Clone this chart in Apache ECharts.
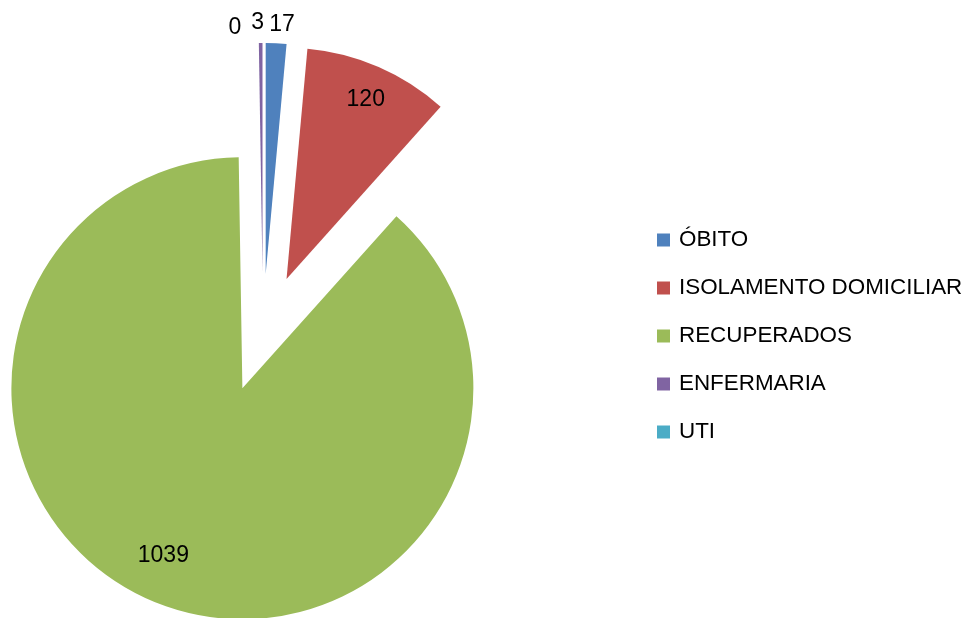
<!DOCTYPE html>
<html>
<head>
<meta charset="utf-8">
<script src="https://cdn.jsdelivr.net/npm/echarts@6/dist/echarts.min.js"></script>
<style>
html,body{margin:0;padding:0;background:#fff;}
#chart{width:965px;height:618px;}
</style>
</head>
<body>
<div id="chart"></div>
<script>
// ---- data ----
const categories = ['ÓBITO', 'ISOLAMENTO DOMICILIAR', 'RECUPERADOS', 'ENFERMARIA', 'UTI'];
const values = [17, 120, 1039, 3, 0];
const colors = ['#4F81BD', '#C0504D', '#9BBB59', '#8064A2', '#4BACC6'];

// which labels sit near the big slices vs. above the small ones
const bigLabel = [false, true, true, false, false];
// small label nudges (style), per category index
const labelNudge = [[5, -1], [5, -9], [-14, -7], [-3, -2], [-28, 3]];

const CENTER = [263, 333];
const R = 231;
const OFFSET = 59;
const FONT = 'Liberation Sans, Arial, sans-serif';

const chart = echarts.init(document.getElementById('chart'), null, {renderer: 'canvas'});

function mainData() {
  return categories.map((c, i) => ({
    name: c, value: values[i], selected: true,
    itemStyle: {color: colors[i]},
    select: {itemStyle: {color: colors[i]}}
  }));
}
function labelData(showBig) {
  return categories.map((c, i) => {
    const show = bigLabel[i] === showBig;
    return {
      name: c, value: values[i], selected: true,
      itemStyle: {color: 'rgba(0,0,0,0)'},
      select: {itemStyle: {color: 'rgba(0,0,0,0)'}, label: {show: show}},
      label: {show: show}
    };
  });
}
const labelCommon = {
  show: true, position: 'inside', color: '#000', fontSize: 23,
  fontFamily: FONT, textBorderWidth: 0, formatter: '{c}'
};
function nudge(p) {
  const n = labelNudge[p.dataIndex];
  return {hideOverlap: false, moveOverlap: null, dx: n[0], dy: n[1]};
}

chart.setOption({
  animation: false,
  backgroundColor: '#fff',
  legend: {
    orient: 'vertical',
    left: 652, top: 223,
    icon: 'rect', itemWidth: 13, itemHeight: 13,
    itemGap: 24,
    data: categories,
    selectedMode: false,
    textStyle: {fontSize: 22.4, fontFamily: FONT, color: '#000', lineHeight: 24, padding: [0, 0, 0, 4]}
  },
  series: [
    {
      type: 'pie', name: 'main',
      center: CENTER, radius: [0, R],
      startAngle: 90, clockwise: true,
      selectedMode: 'multiple', selectedOffset: OFFSET,
      avoidLabelOverlap: false,
      label: {show: false}, labelLine: {show: false},
      emphasis: {disabled: true, scale: false},
      itemStyle: {borderWidth: 0},
      data: mainData()
    },
    {
      type: 'pie', name: 'labelsBig', silent: true,
      center: CENTER, radius: [0, 366],
      startAngle: 90, clockwise: true,
      selectedMode: 'multiple', selectedOffset: OFFSET,
      avoidLabelOverlap: false,
      label: labelCommon, labelLine: {show: false},
      labelLayout: nudge,
      emphasis: {disabled: true, scale: false},
      itemStyle: {borderWidth: 0},
      data: labelData(true)
    },
    {
      type: 'pie', name: 'labelsSmall', silent: true,
      center: CENTER, radius: [0, 492],
      startAngle: 90, clockwise: true,
      selectedMode: 'multiple', selectedOffset: OFFSET,
      avoidLabelOverlap: false,
      label: labelCommon, labelLine: {show: false},
      labelLayout: nudge,
      emphasis: {disabled: true, scale: false},
      itemStyle: {borderWidth: 0},
      data: labelData(false)
    }
  ]
});
</script>
</body>
</html>
